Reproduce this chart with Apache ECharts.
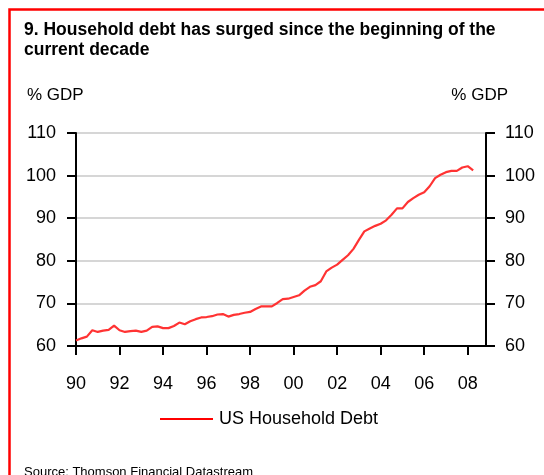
<!DOCTYPE html>
<html>
<head>
<meta charset="utf-8">
<script src="https://cdn.jsdelivr.net/npm/echarts@6/dist/echarts.min.js"></script>
<style>
  html, body { margin: 0; padding: 0; background: #fff; }
  #chart { width: 544px; height: 475px; }
</style>
</head>
<body>
<div id="chart"></div>
<script>
// US household debt, % of GDP, quarterly from 1990 Q1
const startYear = 1990;
const householdDebt = [
  61.3, 61.8, 62.2, 63.7,   // 1990
  63.3, 63.6, 63.8, 64.8,   // 1991
  63.7, 63.3, 63.5, 63.6,   // 1992
  63.3, 63.6, 64.5, 64.6,   // 1993
  64.2, 64.2, 64.7, 65.5,   // 1994
  65.1, 65.8, 66.3, 66.7,   // 1995
  66.8, 67.0, 67.4, 67.5,   // 1996
  66.9, 67.3, 67.5, 67.8,   // 1997
  68.0, 68.7, 69.3, 69.3,   // 1998
  69.3, 70.1, 71.0, 71.1,   // 1999
  71.5, 71.9, 73.0, 73.9,   // 2000
  74.3, 75.2, 77.5, 78.4,   // 2001
  79.1, 80.2, 81.3, 82.8,   // 2002
  84.9, 86.9, 87.6, 88.2,   // 2003
  88.7, 89.5, 90.8, 92.3,   // 2004
  92.3, 93.8, 94.7, 95.5,   // 2005
  96.1, 97.5, 99.4, 100.2,  // 2006
  100.8, 101.1, 101.1, 101.9, // 2007
  102.2, 101.2              // 2008
];
const seriesName = 'US Household Debt';
const yTicks = { min: 60, max: 110, step: 10 };
const xRange = { min: 1990, max: 2008.84, step: 2 };
const titleText = '9. Household debt has surged since the beginning of the\ncurrent decade';
const unitLabel = '% GDP';
const sourceText = 'Source: Thomson Financial Datastream';

const points = householdDebt.map((v, i) => [startYear + i / 4, v]);

const FONT = '"Liberation Sans", Arial, Helvetica, sans-serif';
const chart = echarts.init(document.getElementById('chart'), null, { renderer: 'canvas' });

const yAxisBase = {
  type: 'value',
  min: yTicks.min,
  max: yTicks.max,
  interval: yTicks.step,
  axisLine: { show: true, lineStyle: { color: '#000', width: 2 } },
  axisTick: { show: true, inside: false, length: 9, lineStyle: { color: '#000', width: 2 } },
  axisLabel: { color: '#000', fontSize: 18, fontFamily: FONT, margin: 20 }
};

const plainText = (size) => ({ fontFamily: FONT, fontSize: size, fontWeight: 'normal', color: '#000' });

chart.setOption({
  animation: false,
  backgroundColor: '#fff',
  title: [
    {
      text: titleText,
      left: 24, top: 20, padding: 0,
      textStyle: { fontFamily: FONT, fontSize: 17.5, fontWeight: 'bold', color: '#000', lineHeight: 20 }
    },
    { text: unitLabel, left: 27, top: 87, padding: 0, textStyle: plainText(17) },
    { text: unitLabel, right: 36, top: 87, padding: 0, textStyle: plainText(17) },
    { text: sourceText, left: 24, top: 466, padding: 0, textStyle: plainText(13) }
  ],
  graphic: [
    {
      type: 'polyline',
      shape: { points: [[9.5, 480], [9.5, 9.5], [550, 9.5]] },
      style: { stroke: '#ff0000', lineWidth: 2.5, fill: null }
    }
  ],
  legend: {
    data: [seriesName],
    left: 160, top: 410, padding: 0,
    icon: 'rect',
    itemWidth: 53, itemHeight: 2,
    itemGap: 10,
    textStyle: { fontFamily: FONT, fontSize: 18, color: '#000', padding: [0, 0, 0, 1] }
  },
  grid: { left: 76, right: 58, top: 133, bottom: 129, containLabel: false },
  xAxis: {
    type: 'value',
    min: xRange.min,
    max: xRange.max,
    interval: xRange.step,
    axisLine: { show: true, onZero: false, lineStyle: { color: '#000', width: 2 } },
    axisTick: { show: true, length: 9, lineStyle: { color: '#000', width: 2 } },
    axisLabel: {
      color: '#000', fontSize: 18, fontFamily: FONT, margin: 29,
      showMaxLabel: false,
      formatter: v => String(Math.round(v) % 100).padStart(2, '0')
    },
    splitLine: { show: false }
  },
  yAxis: [
    Object.assign({}, yAxisBase, {
      position: 'left',
      splitLine: { show: true, lineStyle: { color: '#c8c8c8', width: 1.5 } },
      axisLabel: Object.assign({}, yAxisBase.axisLabel, { margin: 20 })
    }),
    Object.assign({}, yAxisBase, {
      position: 'right',
      splitLine: { show: false },
      axisLabel: Object.assign({}, yAxisBase.axisLabel, { margin: 19 })
    })
  ],
  series: [
    {
      name: seriesName,
      type: 'line',
      yAxisIndex: 0,
      data: points,
      symbol: 'none',
      lineStyle: { color: '#ff3333', width: 2.2 },
      itemStyle: { color: '#ff0000' },
      z: 5
    }
  ]
});
</script>
</body>
</html>
